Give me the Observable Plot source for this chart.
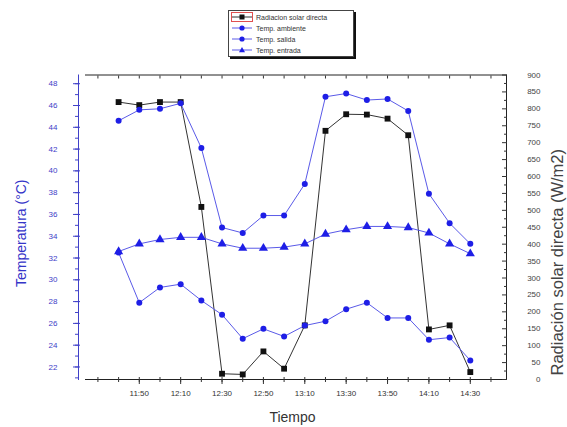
<!DOCTYPE html>
<html><head><meta charset="utf-8">
<script src="https://cdn.jsdelivr.net/npm/d3@7"></script>
<script src="https://cdn.jsdelivr.net/npm/@observablehq/plot@0.6"></script>
<style>
body{margin:0;background:#fff;font-family:"Liberation Sans",Arial,sans-serif;}
#wrap{position:relative;width:567px;height:427px;overflow:hidden;}
#chart{position:absolute;left:0;top:0;}
#legend{position:absolute;left:228px;top:10px;width:124px;height:45px;border:1px solid #444;box-shadow:2px 2px 0 #111;background:#fff;font-size:7px;color:#333;}
.le{position:absolute;left:0;height:11px;width:124px;}
.le svg{position:absolute;left:2px;top:0;}
.le span{position:absolute;left:27px;top:1px;white-space:nowrap;line-height:9px;}
</style></head><body><div id="wrap"><div id="chart"></div><div id="legend"></div></div>
<script>
// ---- data ----
const times = ["11:40","11:50","12:00","12:10","12:20","12:30","12:40","12:50","13:00","13:10","13:20","13:30","13:40","13:50","14:00","14:10","14:20","14:30"];
const radiacion = [820, 811, 820, 820, 510, 17, 15, 83, 32, 160, 735, 784, 783, 771, 722, 148, 160, 22];
const tempAmbiente = [32.5, 27.9, 29.3, 29.6, 28.1, 26.8, 24.6, 25.5, 24.8, 25.8, 26.2, 27.3, 27.9, 26.5, 26.5, 24.5, 24.7, 22.6];
const tempSalida = [44.6, 45.6, 45.7, 46.2, 42.1, 34.8, 34.3, 35.9, 35.9, 38.8, 46.8, 47.1, 46.5, 46.6, 45.5, 37.9, 35.2, 33.3];
const tempEntrada = [32.6, 33.3, 33.7, 33.9, 33.9, 33.3, 32.9, 32.9, 33.0, 33.3, 34.2, 34.6, 34.9, 34.9, 34.8, 34.3, 33.3, 32.4];
const xTickLabels = ["11:50","12:10","12:30","12:50","13:10","13:30","13:50","14:10","14:30"];
const tempTicks = [22,24,26,28,30,32,34,36,38,40,42,44,46,48];
const radTicks = [0,50,100,150,200,250,300,350,400,450,500,550,600,650,700,750,800,850,900];
const seriesNames = ["Radiacion solar directa","Temp. ambiente","Temp. salida","Temp. entrada"];

// ---- helpers ----
const toMin = s => { const [h,m] = s.split(":").map(Number); return h*60+m; };
const fmtMin = v => `${Math.floor(v/60)}:${String(v%60).padStart(2,"0")}`;
const xd = [684, 887.5];
const yd = [20.85, 48.8];
const radMax = 900;
const radToT = r => yd[0] + r*(yd[1]-yd[0])/radMax;

const data = times.map((t,i)=>({t: toMin(t), rad: radiacion[i], amb: tempAmbiente[i], sal: tempSalida[i], ent: tempEntrada[i]}));
const xMajor = xTickLabels.map(toMin);
const xMinor = d3.range(toMin("11:30"), toMin("14:40")+1, 10);
const yMinor = d3.range(21, 49, 1);
const radMinor = d3.range(25, 900, 50);

const blue = "#1e1ee6", lineBlue = "#5a5ae8", blk = "#111", axisBlue = "#4040c8";
const font = "'Liberation Sans', Arial, sans-serif";

const chart = Plot.plot({
  width: 567, height: 427,
  marginLeft: 78, marginRight: 61, marginTop: 74.5, marginBottom: 48,
  x: {domain: xd, insetLeft: 7, axis: null},
  y: {domain: yd, axis: null},
  style: {fontFamily: font, fontSize: "8px", background: "transparent"},
  marks: [
    // axis lines
    Plot.frame({anchor: "left", stroke: axisBlue}),
    Plot.ruleY([{y: yd[0], x1: xd[0], x2: xd[1]}], {y: "y", x1: "x1", x2: "x2", stroke: "#222"}),
    Plot.ruleY([{y: yd[1], x1: xd[0], x2: xd[1]}], {y: "y", x1: "x1", x2: "x2", stroke: "#222"}),
    Plot.ruleX([xd[1]], {stroke: "#222"}),
    // bottom axis
    Plot.axisX(xMinor, {anchor: "bottom", tickSize: 3, text: null, stroke: "#333"}),
    Plot.axisX(xMajor, {anchor: "bottom", tickSize: 5, tickPadding: 6, tickFormat: fmtMin, fill: "#333", stroke: "#333"}),
    Plot.axisX(xMinor, {anchor: "bottom", tickSize: -2, text: null, stroke: "#333"}),
    // top axis ticks (inward)
    Plot.axisX(xMinor, {anchor: "top", tickSize: -3, text: null, stroke: "#333"}),
    // left axis
    Plot.axisY(yMinor, {anchor: "left", tickSize: 3, text: null, stroke: axisBlue}),
    Plot.axisY(tempTicks, {anchor: "left", tickSize: 5, text: null, stroke: axisBlue}),
    Plot.axisY(tempTicks, {anchor: "left", tickSize: -2, text: null, stroke: axisBlue}),
    Plot.axisY(tempTicks, {anchor: "left", tickSize: 0, tickPadding: 21, textAnchor: "end", fill: axisBlue}),
    // right axis
    Plot.axisY(radTicks.map(radToT), {anchor: "right", tickSize: -5, text: null, stroke: "#333"}),
    Plot.axisY(radMinor.map(radToT), {anchor: "right", tickSize: -3, text: null, stroke: "#333"}),
    Plot.axisY(radTicks.map(radToT), {anchor: "right", tickSize: 0, tickPadding: 34, textAnchor: "end", fill: "#444",
      tickFormat: v => String(Math.round((v - yd[0]) * radMax / (yd[1]-yd[0])))}),
    // axis titles
    Plot.text(["Temperatura (°C)"], {frameAnchor: "left", dx: -57, dy: 6, rotate: -90, textAnchor: "middle", fontSize: 14, fill: "#3535c8"}),
    Plot.text(["Radiación solar directa (W/m2)"], {frameAnchor: "right", dx: 51, dy: 35, rotate: -90, textAnchor: "middle", fontSize: 16.5, fill: "#444"}),
    Plot.text(["Tiempo"], {frameAnchor: "bottom", dy: 42, fontSize: 14, fill: "#333"}),
    // radiation series
    Plot.line(data, {x: "t", y: d => radToT(d.rad), stroke: "#333", strokeWidth: 1}),
    Plot.dot(data, {x: "t", y: d => radToT(d.rad), symbol: "square", r: 3.3, fill: blk}),
    // temperature series
    Plot.line(data, {x: "t", y: "amb", stroke: lineBlue, strokeWidth: 1}),
    Plot.line(data, {x: "t", y: "ent", stroke: lineBlue, strokeWidth: 1}),
    Plot.line(data, {x: "t", y: "sal", stroke: lineBlue, strokeWidth: 1}),
    Plot.dot(data, {x: "t", y: "amb", symbol: "circle", r: 3, fill: blue}),
    Plot.dot(data, {x: "t", y: "ent", symbol: "triangle", r: 3.4, fill: blue}),
    Plot.dot(data, {x: "t", y: "sal", symbol: "circle", r: 3, fill: blue})
  ]
});
document.getElementById("chart").appendChild(chart);

// legend
const legend = document.getElementById("legend");
const markers = [
  `<rect x="8.5" y="2.5" width="5" height="5" fill="${blk}"/>`,
  `<circle cx="11" cy="5" r="2.6" fill="${blue}"/>`,
  `<circle cx="11" cy="5" r="2.6" fill="${blue}"/>`,
  `<path d="M11,2 L14,7.3 L8,7.3 Z" fill="${blue}"/>`
];
const lineCols = ["#333", lineBlue, lineBlue, lineBlue];
seriesNames.forEach((name, i) => {
  const div = document.createElement("div");
  div.className = "le";
  div.style.top = (1 + i*11) + "px";
  const hl = i === 0 ? `<rect x="0.5" y="0.5" width="21" height="9" fill="none" stroke="#e05050" stroke-width="1"/>` : "";
  div.innerHTML = `<svg width="23" height="11">${hl}<line x1="1" y1="5" x2="21" y2="5" stroke="${lineCols[i]}" stroke-width="1"/>${markers[i]}</svg><span>${name}</span>`;
  legend.appendChild(div);
});
</script></body></html>
